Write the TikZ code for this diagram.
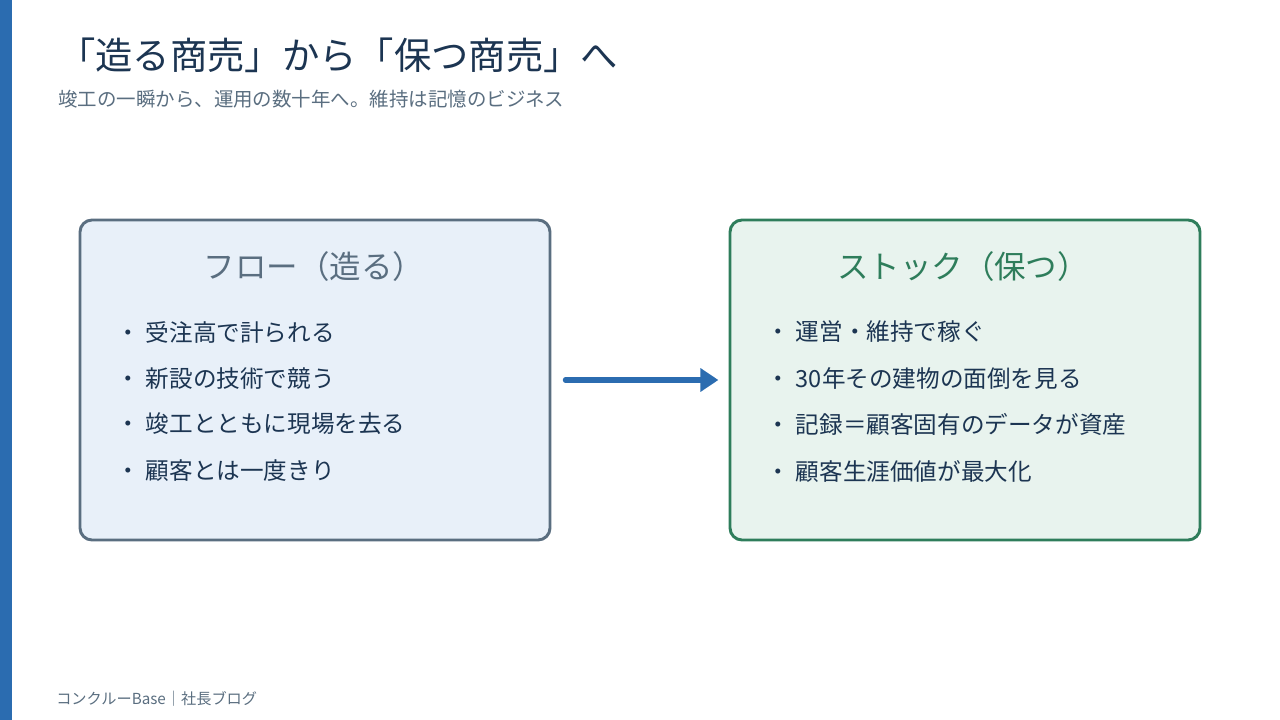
\documentclass[tikz,border=0pt]{standalone}
\usepackage{fontspec}
\newfontfamily\jpfont{Noto Sans CJK JP}
\usepackage{xcolor}
\usepackage{tikz}
\usetikzlibrary{arrows.meta, positioning}
\definecolor{barblue}{HTML}{2B6CB0}
\definecolor{navy}{HTML}{1C3552}
\definecolor{slate}{HTML}{5A6E80}
\definecolor{flowfill}{HTML}{E8F0F9}
\definecolor{stockfill}{HTML}{E8F3EE}
\definecolor{stockgreen}{HTML}{2E7D5B}
\tikzset{
  maintitle/.style={anchor=west, inner sep=0pt, text=navy, font=\jpfont\fontsize{28pt}{32pt}\selectfont},
  subtitle/.style={anchor=west, inner sep=0pt, text=slate, font=\jpfont\fontsize{14.6pt}{17pt}\selectfont},
  panel/.style={rectangle, rounded corners=9pt, line width=2.2pt, minimum width=352.5pt, minimum height=240pt},
  panelhead/.style={inner sep=0pt, font=\jpfont\fontsize{23.6pt}{27pt}\selectfont},
  bullet/.style={anchor=west, inner sep=0pt, text=navy, font=\jpfont\fontsize{17.7pt}{21pt}\selectfont},
  footnote/.style={anchor=west, inner sep=0pt, text=slate, font=\jpfont\fontsize{11.4pt}{13pt}\selectfont},
  flowarr/.style={draw=barblue, line width=3.8pt, line cap=round, -{Triangle[length=13.5pt, width=17pt]}},
}
\newcommand{\dotsep}{・\hspace{4.5pt}}

\begin{document}
\begin{tikzpicture}[x=0.75pt, y=-0.75pt]
\useasboundingbox (0,0) rectangle (1280,720);
\fill[white] (0,0) rectangle (1280,720);
\fill[barblue] (0,0) rectangle (11.5,720);
% heading
\node[maintitle] (title) at (58,55) {「造る商売」から「保つ商売」へ};
\node[subtitle] (sub) at (58,99) {竣工の一瞬から、運用の数十年へ。維持は記憶のビジネス};
% the two panels
\node[panel, draw=slate, fill=flowfill] (flow) at (315,380) {};
\node[panel, draw=stockgreen, fill=stockfill] (stock) at (965,380) {};
\node[panelhead, text=slate] (flowhead) at (314,267) {フロー（造る）};
\node[panelhead, text=stockgreen] (stockhead) at (963,267) {ストック（保つ）};
\node[bullet] (f1) at (116,332) {\dotsep 受注高で計られる};
\node[bullet] (f2) at (116,379) {\dotsep 新設の技術で競う};
\node[bullet] (f3) at (116,424) {\dotsep 竣工とともに現場を去る};
\node[bullet] (f4) at (116,471) {\dotsep 顧客とは一度きり};
\node[bullet] (s1) at (766,332) {\dotsep 運営・維持で稼ぐ};
\node[bullet] (s2) at (766,379) {\dotsep 30年その建物の面倒を見る};
\node[bullet] (s3) at (766,424) {\dotsep 記録＝顧客固有のデータが資産};
\node[bullet] (s4) at (766,471) {\dotsep 顧客生涯価値が最大化};
\draw[flowarr, shorten <=10.4pt, shorten >=7.6pt] (flow.east) -- (stock.west);
% footer
\node[footnote] (foot) at (56,699) {コンクルーBase｜社長ブログ};
\end{tikzpicture}
\end{document}
